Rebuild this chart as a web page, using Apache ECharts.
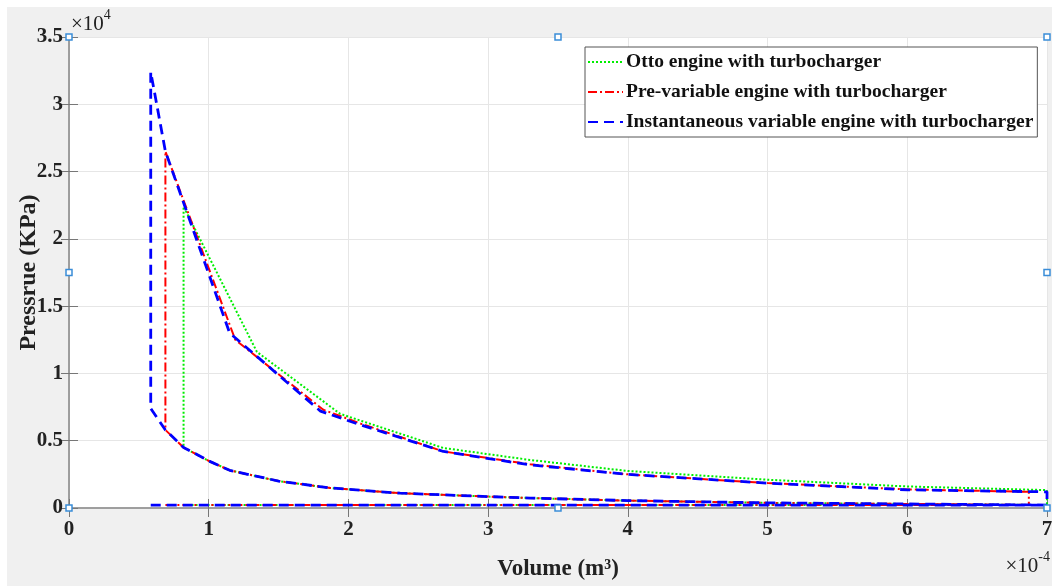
<!DOCTYPE html>
<html><head><meta charset="utf-8">
<script src="https://cdn.jsdelivr.net/npm/echarts@6/dist/echarts.min.js"></script>
<style>html,body{margin:0;padding:0;background:#fff}#c{width:1052px;height:588px}</style>
</head><body><div id="c"></div>
<script>
// ---- data (volume in 1e-4 m^3, pressure in 1e4 KPa) ----
const seriesNames = ['Otto engine with turbocharger', 'Pre-variable engine with turbocharger', 'Instantaneous variable engine with turbocharger'];
const xTicks = [0, 1, 2, 3, 4, 5, 6, 7];
const yTicks = [0, 0.5, 1, 1.5, 2, 2.5, 3, 3.5];

const ottoV = [0.82, 7.0, 7.0, 6.0, 5.0, 4.0, 3.3, 3.0, 2.37, 1.87, 1.5, 1.15, 1.0, 0.82, 0.82, 1.345, 1.94, 2.68, 3.3, 4.0, 5.0, 6.0, 7.0, 7.0];
const ottoP = [0.022, 0.022, 0.025, 0.03, 0.038, 0.055, 0.074, 0.085, 0.11, 0.149, 0.2, 0.28, 0.35, 0.45, 2.24, 1.16, 0.70, 0.446, 0.357, 0.275, 0.21, 0.16, 0.133, 0.022];

const preV = [0.69, 7.0, 7.0, 6.0, 5.0, 4.0, 3.3, 3.0, 2.37, 1.87, 1.5, 1.15, 1.0, 0.82, 0.69, 0.69, 1.19, 1.82, 2.08, 2.68, 3.3, 4.0, 5.0, 6.0, 6.87, 6.87];
const preP = [0.022, 0.022, 0.025, 0.03, 0.038, 0.055, 0.074, 0.085, 0.11, 0.149, 0.2, 0.28, 0.35, 0.45, 0.58, 2.65, 1.25, 0.73, 0.63, 0.42, 0.325, 0.25, 0.185, 0.138, 0.12, 0.022];

const instV = [0.585, 7.0, 7.0, 6.0, 5.0, 4.0, 3.3, 3.0, 2.37, 1.87, 1.5, 1.15, 1.0, 0.82, 0.69, 0.585, 0.585, 0.69, 1.15, 1.8, 2.08, 2.68, 3.3, 4.0, 5.0, 6.0, 7.0, 7.0];
const instP = [0.022, 0.022, 0.025, 0.03, 0.038, 0.055, 0.074, 0.085, 0.11, 0.149, 0.2, 0.28, 0.35, 0.45, 0.58, 0.74, 3.24, 2.65, 1.30, 0.72, 0.62, 0.42, 0.32, 0.25, 0.185, 0.135, 0.12, 0.022];

const zip = (a, b) => a.map((v, i) => [v, b[i]]);
const FONT = '"Liberation Serif", "Times New Roman", serif';

const chart = echarts.init(document.getElementById('c'), null, {renderer: 'canvas'});

const axisLine = {show: true, lineStyle: {color: '#999', width: 1.5}};
const tickIn = (len) => ({show: true, inside: true, length: len, lineStyle: {color: '#777', width: 1}});
const xBase = {type: 'value', min: xTicks[0], max: xTicks[xTicks.length - 1], interval: xTicks[1] - xTicks[0]};
const yBase = {type: 'value', min: yTicks[0], max: yTicks[yTicks.length - 1], interval: yTicks[1] - yTicks[0]};

const styles = [
  {color: '#00ee00', width: 2, type: [2, 2]},
  {color: '#ff0000', width: 2, type: [9, 3, 2, 3]},
  {color: '#0000ff', width: 2.8, type: [10, 6]}
];

const option = {
  animation: false,
  backgroundColor: '#fff',
  grid: {left: 69, top: 37, right: 5, bottom: 80, show: true, backgroundColor: '#fff', borderWidth: 0, containLabel: false, outerBoundsMode: 'none'},
  xAxis: [
    Object.assign({}, xBase, {
      position: 'bottom', axisLine: axisLine, axisTick: tickIn(9),
      axisLabel: {color: '#222', fontFamily: FONT, fontWeight: 'bold', fontSize: 21, margin: 11},
      splitLine: {show: true, lineStyle: {color: '#e6e6e6', width: 1}},
      name: 'Volume (m³)', nameLocation: 'middle', nameGap: 50, nameMoveOverlap: false,
      nameTextStyle: {color: '#222', fontFamily: FONT, fontWeight: 'bold', fontSize: 23}
    }),
    Object.assign({}, xBase, {
      position: 'top', axisLine: axisLine, axisTick: tickIn(9),
      axisLabel: {show: false}, splitLine: {show: false}
    })
  ],
  yAxis: [
    Object.assign({}, yBase, {
      position: 'left', axisLine: axisLine, axisTick: tickIn(9),
      axisLabel: {color: '#222', fontFamily: FONT, fontWeight: 'bold', fontSize: 21, margin: 6},
      splitLine: {show: true, lineStyle: {color: '#e6e6e6', width: 1}},
      name: 'Pressrue (KPa)', nameLocation: 'middle', nameGap: 28, nameRotate: 90, nameMoveOverlap: false,
      nameTextStyle: {color: '#222', fontFamily: FONT, fontWeight: 'bold', fontSize: 24}
    }),
    Object.assign({}, yBase, {
      position: 'right', axisLine: axisLine, axisTick: tickIn(8),
      axisLabel: {show: false}, splitLine: {show: false}
    })
  ],
  legend: {
    orient: 'vertical', left: 585, top: 47,
    backgroundColor: '#fff', borderColor: '#555', borderWidth: 1,
    padding: [5, 4, 5, 2], itemWidth: 35, itemHeight: 14, itemGap: 10,
    itemStyle: {opacity: 0},
    textStyle: {color: '#111', fontFamily: FONT, fontWeight: 'bold', fontSize: 19.5, lineHeight: 20, padding: [0, 0, 0, -2]},
    data: seriesNames
  },
  series: seriesNames.map((n, i) => ({
    name: n, type: 'line', data: [zip(ottoV, ottoP), zip(preV, preP), zip(instV, instP)][i],
    showSymbol: false, symbol: 'none',
    lineStyle: styles[i], itemStyle: {color: styles[i].color}, z: 2 + i
  }))
};
chart.setOption(option);

// decorations: figure background, exponent labels, selection handles
const p = (x, y) => chart.convertToPixel({xAxisIndex: 0, yAxisIndex: 0}, [x, y]);
const x0 = xTicks[0], x1 = xTicks[xTicks.length - 1], y0 = yTicks[0], y1 = yTicks[yTicks.length - 1];
const tl = p(x0, y1), br = p(x1, y0);
const handlePts = [[x0, y1], [(x0 + x1) / 2, y1], [x1, y1], [x0, (y0 + y1) / 2], [x1, (y0 + y1) / 2], [x0, y0], [(x0 + x1) / 2, y0], [x1, y0]];
const rich = {a: {fontFamily: FONT, fontSize: 21, fill: '#222', verticalAlign: 'bottom'}, b: {fontFamily: FONT, fontSize: 14, fill: '#222', verticalAlign: 'top', padding: [0, 0, 13, 0]}};
const graphics = [
  {type: 'rect', shape: {x: 7, y: 7, width: 1045, height: 579}, style: {fill: '#f0f0f0'}, z: -10, silent: true},
  {type: 'text', x: tl[0] + 2, y: tl[1] - 2, z: 10, style: {text: '{a|×10}{b|4}', verticalAlign: 'bottom', rich: rich}},
  {type: 'text', x: br[0] + 3, y: br[1] + 69, z: 10, style: {text: '{a|×10}{b|-4}', align: 'right', verticalAlign: 'bottom', rich: rich}}
].concat(handlePts.map(hp => {
  const c = p(hp[0], hp[1]);
  return {type: 'rect', shape: {x: c[0] - 3, y: c[1] - 3, width: 6, height: 6}, style: {fill: '#fff', stroke: '#3a8dd8', lineWidth: 1.5}, z: 20, silent: true};
}));
chart.setOption({graphic: graphics});
</script>
</body></html>
